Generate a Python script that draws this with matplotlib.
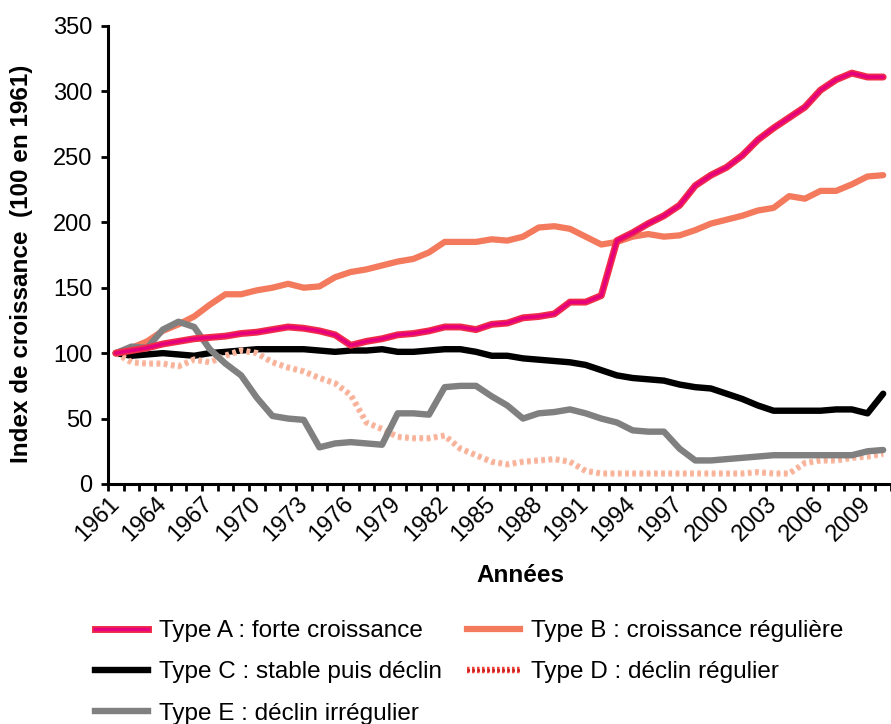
import matplotlib
matplotlib.use('Agg')
import matplotlib.pyplot as plt
import matplotlib.patheffects as pe
from matplotlib.lines import Line2D
from matplotlib.ticker import FixedLocator

plt.rcParams['font.family'] = ['Liberation Sans', 'DejaVu Sans']

years = list(range(1961, 2011))

type_a = [100, 102, 104, 107, 109, 111, 112, 113, 115, 116,
          118, 120, 119, 117, 114, 106, 109, 111, 114, 115,
          117, 120, 120, 118, 122, 123, 127, 128, 130, 139,
          139, 144, 186, 192, 199, 205, 213, 228, 236, 242,
          251, 263, 272, 280, 288, 301, 309, 314, 311, 311]

type_b = [100, 104, 109, 117, 122, 128, 137, 145, 145, 148,
          150, 153, 150, 151, 158, 162, 164, 167, 170, 172,
          177, 185, 185, 185, 187, 186, 189, 196, 197, 195,
          189, 183, 185, 189, 191, 189, 190, 194, 199, 202,
          205, 209, 211, 220, 218, 224, 224, 229, 235, 236]

type_c = [100, 98, 99, 100, 99, 98, 100, 101, 102, 103,
          103, 103, 103, 102, 101, 102, 102, 103, 101, 101,
          102, 103, 103, 101, 98, 98, 96, 95, 94, 93,
          91, 87, 83, 81, 80, 79, 76, 74, 73, 69,
          65, 60, 56, 56, 56, 56, 57, 57, 54, 69]

type_d = [100, 93, 92, 92, 90, 95, 93, 98, 102, 100,
          93, 89, 86, 81, 77, 68, 47, 42, 36, 35,
          35, 37, 27, 22, 17, 15, 17, 18, 19, 17,
          10, 8, 8, 8, 8, 8, 8, 8, 8, 8,
          8, 9, 8, 8, 16, 18, 18, 20, 21, 23]

type_e = [100, 105, 104, 118, 124, 120, 103, 92, 83, 66,
          52, 50, 49, 28, 31, 32, 31, 30, 54, 54,
          53, 74, 75, 75, 67, 60, 50, 54, 55, 57,
          54, 50, 47, 41, 40, 40, 27, 18, 18, 19,
          20, 21, 22, 22, 22, 22, 22, 22, 25, 26]

labels = ['Type A : forte croissance',
          'Type B : croissance régulière',
          'Type C : stable puis déclin',
          'Type D : déclin régulier',
          'Type E : déclin irrégulier']

tick_years = years[::3]

W, H = 891, 724
fig = plt.figure(figsize=(W / 100, H / 100), dpi=100)
ax = fig.add_axes([108 / W, 1 - 484 / H, (891 - 108) / W, (484 - 26) / H])

pink_fx = [pe.Stroke(linewidth=5.0, foreground='#EF2D48'), pe.Normal()]
peach_fx = [pe.Stroke(linewidth=4.6, foreground='#FBBDA6'), pe.Normal()]

ax.plot(years, type_b, color='#F47A5D', lw=4.5, zorder=2, solid_capstyle='round')
ax.plot(years, type_c, color='black', lw=4.6, zorder=3, solid_capstyle='round')
ax.plot(years, type_d, color='#F8B29A', lw=2.6, ls=(0, (1, 1)), zorder=4,
        path_effects=peach_fx)
ax.plot(years, type_e, color='#808080', lw=4.6, zorder=5, solid_capstyle='round')
ax.plot(years, type_a, color='#E6007E', lw=2.5, zorder=6, solid_capstyle='round',
        path_effects=pink_fx)

ax.set_xlim(1960.5, 2010.5)
ax.set_ylim(0, 350)
ax.set_yticks(range(0, 351, 50))
ax.set_xticks(tick_years)
ax.set_xticklabels([str(y) for y in tick_years], rotation=45, ha='right',
                   va='center', rotation_mode='anchor')
ax.xaxis.set_minor_locator(FixedLocator([y - 0.5 for y in years] + [2010.5]))
ax.tick_params(axis='x', which='major', length=0, pad=12, labelsize=17)
ax.tick_params(axis='x', which='minor', length=5, width=2, direction='out')
ax.tick_params(axis='y', length=5, width=2, direction='out', pad=6, labelsize=17)

for side in ['top', 'right']:
    ax.spines[side].set_visible(False)
for side in ['left', 'bottom']:
    ax.spines[side].set_linewidth(2.2)

fig.text(22 / W, 1 - 264 / H, 'Index de croissance  (100 en 1961)', rotation=90,
         ha='center', va='center', fontsize=17.5, fontweight='bold')
fig.text(520 / W, 1 - 575 / H, 'Années', ha='center', va='center',
         fontsize=17.5, fontweight='bold')

handles = [
    Line2D([], [], color='#E6007E', lw=2.5, path_effects=pink_fx),
    Line2D([], [], color='black', lw=4.6),
    Line2D([], [], color='#808080', lw=4.6),
    Line2D([], [], color='#F47A5D', lw=4.5),
    Line2D([], [], color='#C81E1E', lw=1.8, ls=(0, (1, 1)),
           path_effects=[pe.Stroke(linewidth=4.6, foreground='#F0443A'), pe.Normal()]),
]
order = [labels[0], labels[2], labels[4], labels[1], labels[3]]
fig.legend(handles, order, ncol=2, loc='upper left',
           bbox_to_anchor=(95 / W, 1 - 620 / H), frameon=False,
           fontsize=17.5, handlelength=2.2, handletextpad=0.45,
           columnspacing=1.0, labelspacing=0.8, borderpad=0, borderaxespad=0)

fig.savefig('out.png', dpi=100)
